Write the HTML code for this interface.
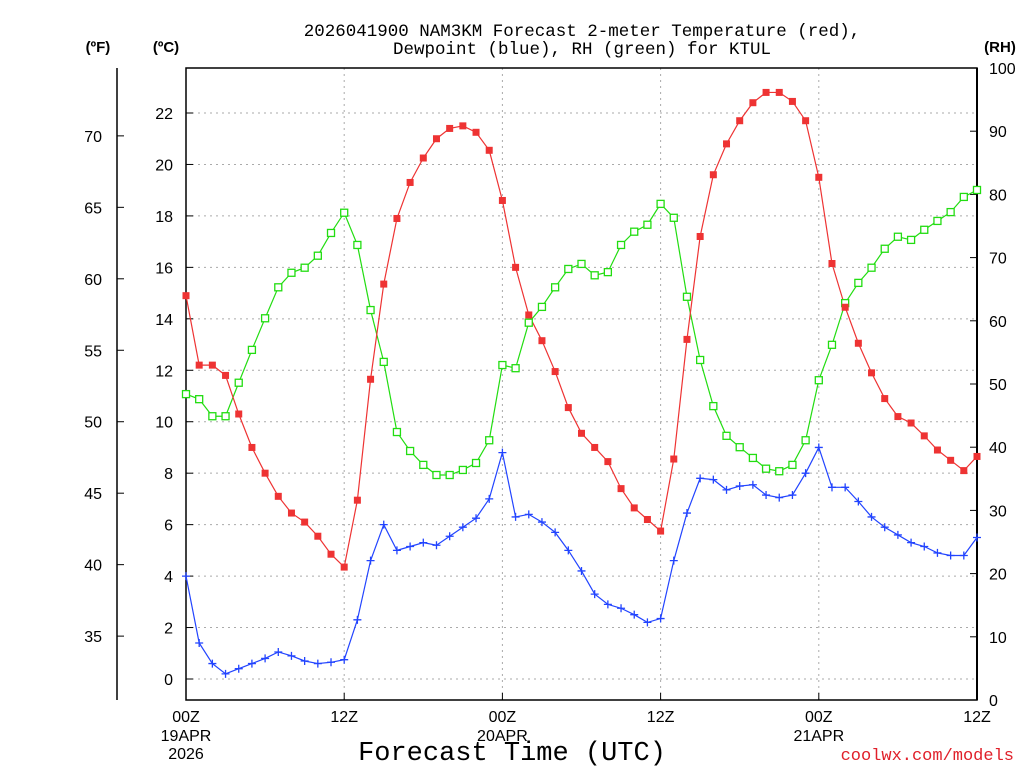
<!DOCTYPE html>
<html><head><meta charset="utf-8"><style>
html,body{margin:0;padding:0;background:#fff;}
svg{display:block;font-family:"Liberation Sans",sans-serif;}
.mono{font-family:"Liberation Mono",monospace;}
</style></head><body>
<svg id="chart" width="1024" height="768" viewBox="0 0 1024 768">
<text class="mono" x="582" y="36" text-anchor="middle" font-size="17.5">2026041900 NAM3KM Forecast 2-meter Temperature (red),</text>
<text class="mono" x="582" y="54" text-anchor="middle" font-size="17.5">Dewpoint (blue), RH (green) for KTUL</text>
<text x="98" y="52" text-anchor="middle" font-size="15" font-weight="bold">(ºF)</text>
<text x="166" y="52" text-anchor="middle" font-size="15" font-weight="bold">(ºC)</text>
<text x="1000" y="52" text-anchor="middle" font-size="15" font-weight="bold">(RH)</text>
<text class="mono" x="512" y="760" text-anchor="middle" font-size="27">Forecast Time (UTC)</text>
<text class="mono" x="1014" y="760" text-anchor="end" font-size="17" fill="#e0202a">coolwx.com/models</text>
<g id="grid"></g><g id="axes"></g><g id="series"></g>
</svg>
<script>
const hours = [];
for (let i = 0; i <= 60; i++) hours.push(i);
const tempC = [14.9,12.2,12.2,11.8,10.3,9.0,8.0,7.1,6.45,6.1,5.55,4.85,4.35,6.95,11.65,15.35,17.9,19.3,20.25,21.0,21.4,21.5,21.25,20.55,18.6,16.0,14.15,13.15,11.95,10.55,9.55,9.0,8.45,7.4,6.65,6.2,5.75,8.55,13.2,17.2,19.6,20.8,21.7,22.4,22.8,22.8,22.45,21.7,19.5,16.15,14.45,13.05,11.9,10.9,10.2,9.95,9.45,8.9,8.5,8.1,8.65];
const dewC = [4.0,1.4,0.6,0.2,0.4,0.6,0.8,1.05,0.9,0.7,0.6,0.65,0.75,2.3,4.6,6.0,5.0,5.15,5.3,5.2,5.55,5.9,6.25,7.0,8.8,6.3,6.4,6.1,5.7,5.0,4.2,3.3,2.9,2.75,2.5,2.2,2.35,4.6,6.45,7.8,7.75,7.35,7.5,7.55,7.15,7.05,7.15,8.0,9.0,7.45,7.45,6.9,6.3,5.9,5.6,5.3,5.15,4.9,4.8,4.8,5.5];
const rh = [48.4,47.6,44.9,44.9,50.2,55.4,60.4,65.3,67.6,68.4,70.3,73.9,77.1,72.0,61.7,53.5,42.4,39.4,37.2,35.6,35.6,36.4,37.5,41.1,53.0,52.5,59.7,62.2,65.3,68.2,69.0,67.2,67.7,72.0,74.1,75.2,78.5,76.3,63.8,53.8,46.5,41.8,40.0,38.3,36.6,36.2,37.2,41.1,50.6,56.2,62.8,66.0,68.4,71.4,73.3,72.8,74.4,75.8,77.2,79.6,80.7];
const cTicks = [0,2,4,6,8,10,12,14,16,18,20,22];
const fTicks = [35,40,45,50,55,60,65,70];
const rhTicks = [0,10,20,30,40,50,60,70,80,90,100];
const xTickHours = [0,12,24,36,48,60];
const xTickLabels = ["00Z","12Z","00Z","12Z","00Z","12Z"];
const xDateLabels = [["19APR","2026"],null,["20APR"],null,["21APR"],null];

const L=186,R=977,T=68,B=700;
const X = h => L + (R-L)*h/60;
const YC = c => 679 - c*(566/22);
const YF = f => YC((f-32)/1.8);
const YRH = r => B - (B-T)*r/100;
const NS="http://www.w3.org/2000/svg";
function mk(parent,tag,attrs){const e=document.createElementNS(NS,tag);for(const k in attrs)e.setAttribute(k,attrs[k]);parent.appendChild(e);return e;}
const grid=document.getElementById('grid'), axes=document.getElementById('axes'), ser=document.getElementById('series');

cTicks.forEach(c=>{
  const g=mk(grid,'line',{x1:L,x2:R,y1:YC(c),y2:YC(c),stroke:'#aaa','stroke-width':1,'stroke-dasharray':'2,4'});
   
});
xTickHours.forEach(h=>{ if(h===0||h===60) return;
  const g=mk(grid,'line',{x1:X(h),x2:X(h),y1:T,y2:B,stroke:'#aaa','stroke-width':1,'stroke-dasharray':'2,4'});
   
});

const frame=mk(axes,'rect',{x:L,y:T,width:R-L,height:B-T,fill:'none',stroke:'#000','stroke-width':1.5});
 
const fl=mk(axes,'line',{x1:117,x2:117,y1:68,y2:700,stroke:'#000','stroke-width':1.5});
 
const rl=mk(axes,'line',{x1:R,x2:R,y1:T,y2:B,stroke:'#000','stroke-width':2});
 

cTicks.forEach(c=>{
  const t=mk(axes,'line',{x1:L,x2:L+7,y1:YC(c),y2:YC(c),stroke:'#000'});
   
  const s=mk(axes,'text',{x:173,y:YC(c)+6,'text-anchor':'end','font-size':16});
  s.textContent=c;  
});
fTicks.forEach(f=>{
  const t=mk(axes,'line',{x1:117,x2:124,y1:YF(f),y2:YF(f),stroke:'#000'});
   
  const s=mk(axes,'text',{x:102,y:YF(f)+6,'text-anchor':'end','font-size':16});
  s.textContent=f;  
});
rhTicks.forEach(r=>{
  const t=mk(axes,'line',{x1:R-7,x2:R,y1:YRH(r),y2:YRH(r),stroke:'#000'});
   
  const s=mk(axes,'text',{x:989,y:YRH(r)+6,'font-size':16});
  s.textContent=r;  
});
xTickHours.forEach((h,i)=>{
  const t=mk(axes,'line',{x1:X(h),x2:X(h),y1:B,y2:B-7,stroke:'#000'});
   
  const s=mk(axes,'text',{x:X(h),y:722,'text-anchor':'middle','font-size':16});
  s.textContent=xTickLabels[i];  
  if(xDateLabels[i]) xDateLabels[i].forEach((d,j)=>{
    const q=mk(axes,'text',{x:X(h),y:741+j*18,'text-anchor':'middle','font-size':16});
    q.textContent=d;  
  });
});

function line(vals,yf,color,name){
  const p=mk(ser,'polyline',{points:vals.map((v,i)=>X(hours[i])+','+yf(v)).join(' '),fill:'none',stroke:color,'stroke-width':1.2});
   
}
line(rh,YRH,'#22dd11','rh-line');
line(dewC,YC,'#2244ff','dewpoint-line');
line(tempC,YC,'#ee3333','temperature-line');
rh.forEach((v,i)=>{
  const m=mk(ser,'rect',{x:X(hours[i])-3.5,y:YRH(v)-3.5,width:7,height:7,fill:'#fff',stroke:'#22dd11','stroke-width':1.3});
   
});
dewC.forEach((v,i)=>{
  const x=X(hours[i]),y=YC(v);
  const m=mk(ser,'path',{d:`M${x-4},${y}H${x+4}M${x},${y-4}V${y+4}`,stroke:'#2244ff','stroke-width':1.3});
   
});
tempC.forEach((v,i)=>{
  const m=mk(ser,'rect',{x:X(hours[i])-3.5,y:YC(v)-3.5,width:7,height:7,fill:'#ee3333'});
   
});
</script>
</body></html>
